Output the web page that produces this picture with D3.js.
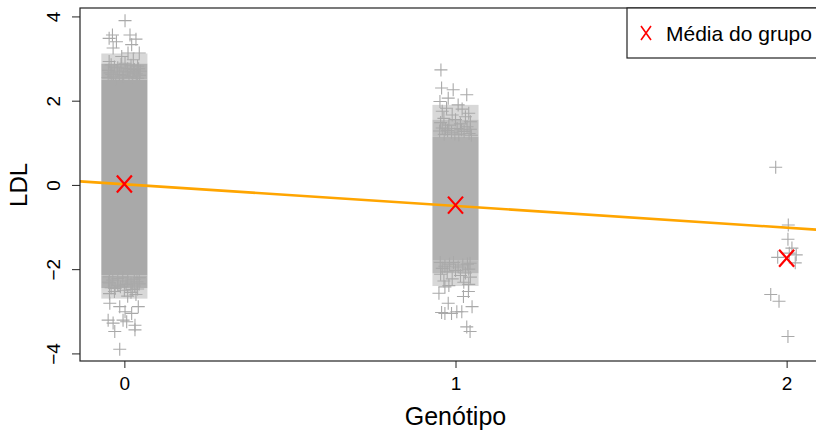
<!DOCTYPE html>
<html>
<head>
<meta charset="utf-8">
<script src="https://cdn.jsdelivr.net/npm/d3@7"></script>
<style>
  html, body { margin: 0; padding: 0; background: #fff; }
  svg { display: block; font-family: "Liberation Sans", Arial, sans-serif; }
</style>
</head>
<body>
<svg id="chart" width="816" height="433"></svg>
<script>
// ---------- data ----------
const genotypes = [0, 1, 2];
const xTickLabels = ["0", "1", "2"];
const yTicks = [-4, -2, 0, 2, 4];
const groupMeans = [0.02, -0.48, -1.74];
const fitIntercept = 0.015;
const fitSlope = -0.515;
const jitterHalf = 0.05;

// dense parts of the clouds: genotype, lower LDL, upper LDL, visual density
const bandGeno    = [0,     0,     0,     0,     0,     1,     1,     1,     1,     1];
const bandLow     = [2.88,  2.5,  -2.15, -2.45, -2.7,  1.55,  1.15, -1.8,  -2.1,  -2.4];
const bandHigh    = [3.12,  2.88,  2.5,  -2.15, -2.45, 1.9,   1.55,  1.15, -1.8,  -2.1];
const bandDensity = [0.45,  0.9,   1,     0.9,   0.45,  0.45,  0.75,  0.92,  0.8,   0.45];

// individual points outside the dense cores: [jitter offset, LDL]
const pointsG0 = [
  [0.002,3.90],[-0.036,3.56],[-0.046,3.48],[0.017,3.56],[0.035,3.46],[-0.024,3.40],
  [0.022,3.33],[-0.034,3.25],[0.045,3.13],[0.011,3.13],[-0.008,3.05],[-0.046,2.93],
  [0.027,2.97],[0.002,2.89],[-0.040,2.85],[0.040,2.82],[-0.020,2.78],[0.030,2.74],
  [-0.048,2.72],[0.048,2.70],[0.010,2.76],[-0.030,2.80],[0.020,2.84],[-0.010,2.86],
  [-0.043,2.66],[0.036,2.64],[-0.015,2.62],[0.005,2.68],[0.046,2.60],[-0.033,2.58],
  [0.024,2.57],[-0.049,2.55],[0.014,2.54],[-0.005,2.56],[0.040,2.53],[-0.026,2.52],
  [-0.038,2.62],[0.028,2.66],[-0.002,2.60],[0.018,2.70],[-0.022,2.70],[0.043,2.76],
  [-0.045,-2.18],[0.045,-2.20],[-0.020,-2.22],[0.030,-2.24],[-0.035,-2.26],[0.010,-2.28],
  [-0.005,-2.19],[0.038,-2.30],[-0.048,-2.31],[0.020,-2.33],
  [-0.045,-2.33],[0.045,-2.35],[-0.020,-2.38],[0.030,-2.40],[-0.040,-2.44],[0.040,-2.47],
  [0.000,-2.50],[-0.030,-2.53],[0.020,-2.55],[-0.045,-2.58],[0.035,-2.60],[0.010,-2.64],
  [-0.012,-2.42],[0.005,-2.36],[-0.028,-2.46],[0.024,-2.48],
  [-0.044,-2.81],[-0.014,-2.89],[0.042,-2.89],[0.002,-3.01],[0.022,-3.05],[-0.049,-3.21],
  [-0.004,-3.21],[0.007,-3.25],[-0.034,-3.28],[0.032,-3.33],[0.032,-3.44],[-0.029,-3.48],
  [-0.014,-3.90]
];
const pointsG1 = [
  [-0.044,2.73],[-0.042,2.30],[-0.007,2.26],[0.034,2.14],[-0.022,2.06],[-0.047,1.98],
  [0.008,1.90],[-0.027,1.82],[0.020,1.80],[-0.040,1.75],[0.040,1.70],[-0.010,1.66],
  [0.030,1.62],[-0.035,1.58],[0.000,1.55],[0.045,1.50],[-0.045,1.48],[0.015,1.45],
  [-0.020,1.42],[0.035,1.38],[-0.040,1.35],[0.005,1.34],[0.045,1.32],[-0.030,1.33],
  [-0.048,1.28],[0.026,1.27],[-0.012,1.25],[0.041,1.22],[-0.034,1.20],[0.010,1.19],
  [-0.024,1.29],[0.018,1.31],[0.048,1.18],[-0.002,1.21],
  [-0.046,-1.84],[0.044,-1.86],[-0.018,-1.88],[0.022,-1.90],[-0.032,-1.93],[0.008,-1.95],
  [0.036,-1.88],[-0.006,-1.84],
  [-0.040,-1.98],[0.040,-2.00],[0.000,-2.03],[-0.025,-2.06],[0.030,-2.09],[-0.045,-2.12],
  [0.015,-2.15],[0.045,-2.19],[-0.010,-2.23],[-0.035,-2.28],[0.025,-2.31],[0.040,-2.36],
  [-0.020,-2.39],[-0.032,-2.42],[0.039,-2.53],[-0.050,-2.57],[0.024,-2.65],[-0.022,-2.81],
  [0.050,-2.89],[-0.042,-3.03],[-0.032,-3.05],[-0.012,-3.05],[0.004,-3.01],[0.019,-3.01],
  [0.034,-3.37],[0.044,-3.48]
];
const pointsG2 = [
  [-0.033,0.42],[0.005,-0.95],[0.004,-1.29],[0.016,-1.50],[0.029,-1.66],[-0.027,-1.72],
  [0.008,-1.62],[0.026,-1.85],[-0.048,-2.60],[-0.023,-2.76],[0.004,-3.60]
];

// ---------- layout ----------
const svg = d3.select("#chart");
const plot = { left: 80, top: 8, bottom: 361, right: 831 };
const x = d3.scaleLinear().domain([-0.134, 2.134]).range([plot.left, plot.right]);
const y = d3.scaleLinear().domain([-4.18, 4.2]).range([plot.bottom, plot.top]);

const gray = "#A9A9A9";
const arm = 6.5;

svg.append("defs").append("clipPath").attr("id", "clip")
  .append("rect").attr("x", plot.left).attr("y", plot.top)
  .attr("width", plot.right - plot.left).attr("height", plot.bottom - plot.top);

const g = svg.append("g").attr("clip-path", "url(#clip)");

// dense parts of the clouds
g.selectAll("rect.core").data(bandGeno).join("rect")
  .attr("class", "core")
  .attr("x", (d) => x(d - jitterHalf) - arm)
  .attr("width", (d) => x(d + jitterHalf) - x(d - jitterHalf) + 2 * arm)
  .attr("y", (d, i) => y(bandHigh[i]))
  .attr("height", (d, i) => y(bandLow[i]) - y(bandHigh[i]))
  .attr("fill", gray)
  .attr("fill-opacity", (d, i) => bandDensity[i]);

// points as "+"
const allPoints = [
  ...pointsG0.map((p) => ({ gx: 0 + p[0], v: p[1] })),
  ...pointsG1.map((p) => ({ gx: 1 + p[0], v: p[1] })),
  ...pointsG2.map((p) => ({ gx: 2 + p[0], v: p[1] }))
];
g.selectAll("path.pt").data(allPoints).join("path")
  .attr("class", "pt")
  .attr("d", (d) => {
    const cx = x(d.gx), cy = y(d.v);
    return `M${cx - arm},${cy}H${cx + arm}M${cx},${cy - arm}V${cy + arm}`;
  })
  .attr("stroke", gray).attr("stroke-width", 1.1).attr("fill", "none");

// regression line
const xd = x.domain();
g.append("line")
  .attr("x1", x(xd[0])).attr("y1", y(fitIntercept + fitSlope * xd[0]))
  .attr("x2", x(xd[1])).attr("y2", y(fitIntercept + fitSlope * xd[1]))
  .attr("stroke", "#FFA500").attr("stroke-width", 2.6);

// group means
const mx = 8.5;
g.selectAll("path.mean").data(genotypes).join("path")
  .attr("class", "mean")
  .attr("d", (d, i) => {
    const cx = x(d), cy = y(groupMeans[i]);
    return `M${cx - mx + 1},${cy - mx}L${cx + mx - 1},${cy + mx}M${cx - mx + 1},${cy + mx}L${cx + mx - 1},${cy - mx}`;
  })
  .attr("stroke", "#FF0000").attr("stroke-width", 2.2).attr("fill", "none");

// box
svg.append("rect")
  .attr("x", plot.left).attr("y", plot.top)
  .attr("width", plot.right - plot.left).attr("height", plot.bottom - plot.top)
  .attr("fill", "none").attr("stroke", "#222").attr("stroke-width", 1.2);

// x axis
const xAxis = svg.append("g")
  .attr("transform", `translate(0,${plot.bottom})`)
  .call(d3.axisBottom(x).tickValues(genotypes).tickFormat((d, i) => xTickLabels[i]).tickSize(7).tickPadding(9));
xAxis.select(".domain").remove();
xAxis.selectAll("line").attr("stroke", "#222");
xAxis.selectAll("text").attr("font-size", 19).attr("fill", "#000")
  .attr("font-family", "Liberation Sans, Arial, sans-serif");

// y axis
const yAxis = svg.append("g")
  .attr("transform", `translate(${plot.left},0)`)
  .call(d3.axisLeft(y).tickValues(yTicks).tickSize(8));
yAxis.select(".domain").remove();
yAxis.selectAll("line").attr("stroke", "#222");
yAxis.selectAll("text")
  .attr("font-size", 19).attr("fill", "#000")
  .attr("font-family", "Liberation Sans, Arial, sans-serif")
  .attr("transform", "rotate(-90)")
  .attr("x", 0).attr("y", -20).attr("dy", 0)
  .attr("text-anchor", "middle");

// axis titles
svg.append("text").attr("x", (x(0) + x(2)) / 2).attr("y", 425)
  .attr("text-anchor", "middle").attr("font-size", 25).text("Genótipo");
svg.append("text").attr("transform", `translate(27,${y(0)}) rotate(-90)`)
  .attr("text-anchor", "middle").attr("font-size", 24).text("LDL");

// legend
svg.append("rect").attr("x", 627).attr("y", plot.top).attr("width", plot.right - 627).attr("height", 50)
  .attr("fill", "#fff").attr("stroke", "#222").attr("stroke-width", 1.2);
const lx = 646, ly = 33, lm = 6;
svg.append("path")
  .attr("d", `M${lx - lm + 1},${ly - lm - 1}L${lx + lm - 1},${ly + lm + 1}M${lx - lm + 1},${ly + lm + 1}L${lx + lm - 1},${ly - lm - 1}`)
  .attr("stroke", "#FF0000").attr("stroke-width", 1.6).attr("fill", "none");
svg.append("text").attr("x", 666).attr("y", 41).attr("font-size", 21).text("Média do grupo");
</script>
</body>
</html>
